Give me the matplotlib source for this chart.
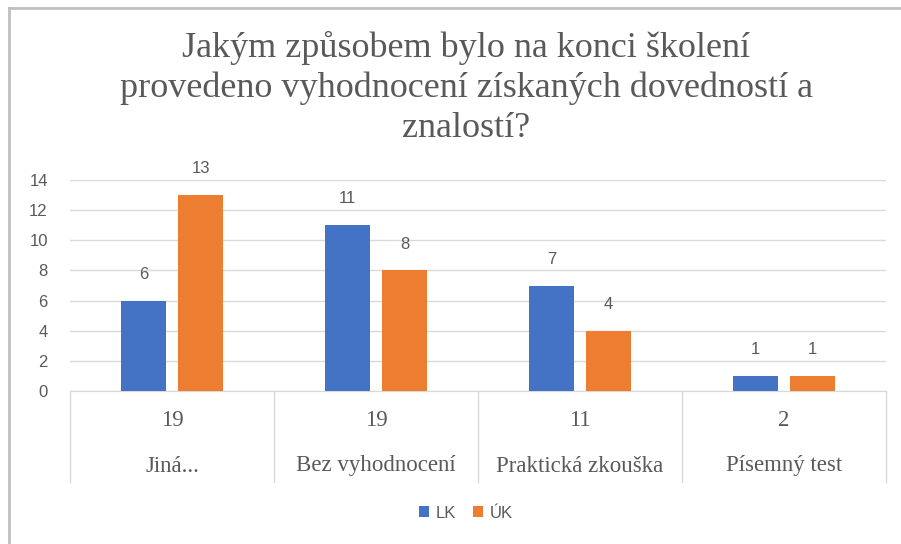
import matplotlib.pyplot as plt
from matplotlib.lines import Line2D
from matplotlib.transforms import blended_transform_factory

# data
categories = ["Jiná...", "Bez vyhodnocení", "Praktická zkouška", "Písemný test"]
totals = [19, 19, 11, 2]
lk = [6, 11, 7, 1]
uk = [13, 8, 4, 1]
series_names = ["LK", "ÚK"]
colors = ["#4472C4", "#ED7D31"]
title = "Jakým způsobem bylo na konci školení\nprovedeno vyhodnocení získaných dovedností a\nznalostí?"

W, H = 901, 544
fig = plt.figure(figsize=(W / 100, H / 100), dpi=100)
ax = fig.add_axes([70 / W, 1 - 391 / H, (886 - 70) / W, (391 - 180) / H])

text_gray = "#595959"
grid_gray = "#D9D9D9"

x = list(range(len(categories)))
bw = 0.22
off = 0.14
b1 = ax.bar([i - off for i in x], lk, bw, color=colors[0], label=series_names[0], zorder=3)
b2 = ax.bar([i + off for i in x], uk, bw, color=colors[1], label=series_names[1], zorder=3)

for bars, vals in ((b1, lk), (b2, uk)):
    for rect, v in zip(bars, vals):
        ax.annotate(str(v), (rect.get_x() + rect.get_width() / 2, v),
                    xytext=(0, 19), textcoords="offset points",
                    ha="center", va="center", fontsize=12,
                    color=text_gray, family="Liberation Sans")

ax.set_xlim(-0.5, len(categories) - 0.5)
ax.set_ylim(0, 14)
ax.set_yticks(range(0, 15, 2))
ax.tick_params(axis="y", length=0, pad=16, labelsize=12, labelcolor=text_gray)
for lab in ax.get_yticklabels():
    lab.set_family("Liberation Sans")
ax.set_xticks([])
ax.grid(axis="y", color=grid_gray, linewidth=1, zorder=0)
for s in ("top", "right", "left"):
    ax.spines[s].set_visible(False)
ax.spines["bottom"].set_color(grid_gray)

# two-level category table under the axis
tb = blended_transform_factory(ax.transData, ax.transAxes)
bottom = -(482 - 391) / (391 - 180)
for b in [i - 0.5 for i in range(len(categories) + 1)]:
    ax.add_line(Line2D([b, b], [0, bottom], transform=tb, color=grid_gray,
                       linewidth=1, clip_on=False))
row1 = -(421 - 391) / (391 - 180)
row2 = -(466 - 391) / (391 - 180)
for i, (t, c) in enumerate(zip(totals, categories)):
    ax.text(i, row1, str(t), transform=tb, ha="center", va="center",
            fontsize=16.5, color=text_gray, family="Liberation Serif")
    ax.text(i, row2, c, transform=tb, ha="center", va="center",
            fontsize=16.5, color=text_gray, family="Liberation Serif")

fig.text(466 / W, 1 - 88 / H, title, ha="center", va="center", fontsize=26,
         color=text_gray, family="Liberation Serif", linespacing=1.28)

leg = fig.legend(handles=[b1, b2], labels=series_names, loc="center",
                 bbox_to_anchor=(466 / W, 1 - 513 / H), ncol=2, frameon=False,
                 fontsize=12, handlelength=0.6, handleheight=0.6,
                 handletextpad=0.4, columnspacing=1.0)
for t in leg.get_texts():
    t.set_color(text_gray)
    t.set_family("Liberation Sans")

# chart frame (left and top edges visible)
fig.add_artist(Line2D([9 / W, 9 / W], [0, 1 - 8 / H], transform=fig.transFigure,
                      color="#BFBFBF", linewidth=2))
fig.add_artist(Line2D([9 / W, 1], [1 - 8 / H, 1 - 8 / H], transform=fig.transFigure,
                      color="#BFBFBF", linewidth=2))

fig.savefig("out.png", dpi=100)
